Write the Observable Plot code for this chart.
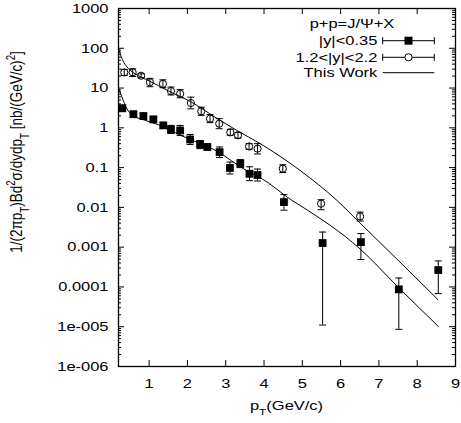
<!DOCTYPE html>
<html><head><meta charset="utf-8">
<script src="https://cdn.jsdelivr.net/npm/d3@7"></script>
<script src="https://cdn.jsdelivr.net/npm/@observablehq/plot@0.6"></script>
<style>body{margin:0;background:#fff} svg{display:block}</style>
</head><body><div id="chart"></div>
<script>
// |y|<0.35 (filled squares)
const midX  = [0.30, 0.59, 0.85, 1.11, 1.37, 1.57, 1.81, 2.07, 2.33, 2.52, 2.84, 3.11, 3.38, 3.62, 3.83, 4.52, 5.53, 6.53, 7.52, 8.55];
const midY  = [3.1, 2.2, 1.97, 1.63, 1.15, 0.91, 0.86, 0.51, 0.38, 0.33, 0.245, 0.098, 0.126, 0.070, 0.065, 0.0136, 0.00127, 0.00134, 8.7e-5, 2.66e-4];
const midLo = [2.6, 1.85, 1.65, 1.37, 0.97, 0.72, 0.64, 0.38, 0.30, 0.28, 0.18, 0.069, 0.10, 0.047, 0.046, 0.0085, 1.1e-5, 4.9e-4, 8.6e-6, 6.8e-5];
const midHi = [3.7, 2.6, 2.35, 1.94, 1.37, 1.15, 1.15, 0.68, 0.48, 0.39, 0.33, 0.138, 0.159, 0.105, 0.092, 0.021, 0.0024, 0.0022, 1.68e-4, 4.5e-4];
// 1.2<|y|<2.2 (open circles)
const fwdX  = [0.35, 0.57, 0.79, 1.02, 1.36, 1.57, 1.81, 2.09, 2.36, 2.59, 2.83, 3.12, 3.32, 3.61, 3.83, 4.49, 5.49, 6.51];
const fwdY  = [24.7, 24.9, 20.4, 14, 12.8, 8.4, 7.2, 4.2, 2.6, 1.7, 1.27, 0.77, 0.65, 0.34, 0.30, 0.094, 0.0124, 0.0059];
const fwdLo = [20.8, 19.5, 18.2, 10.8, 10.2, 6.7, 5.7, 3.0, 2.06, 1.35, 0.95, 0.65, 0.55, 0.29, 0.22, 0.075, 0.00875, 0.00453];
const fwdHi = [29.4, 30.5, 22.8, 17.5, 16.1, 10.6, 9.1, 5.9, 3.3, 2.15, 1.7, 0.92, 0.77, 0.40, 0.40, 0.118, 0.0156, 0.0076];
// "This Work" curves
const upperX = [0.2, 0.3, 0.45, 0.6, 0.8, 1.0, 1.5, 2.11, 2.72, 3.3, 3.9, 4.94, 5.9, 6.5, 7.5, 8.54];
const upperY = [100, 52.5, 31.6, 24, 18.6, 15.1, 8.5, 4.4, 1.86, 0.85, 0.40, 0.085, 0.0151, 0.0041, 4.7e-4, 4.8e-5];
const lowerX = [0.2, 0.3, 0.42, 0.57, 0.8, 1.24, 1.85, 2.72, 3.59, 3.9, 4.73, 4.94, 6.51, 7.52, 8.55];
const lowerY = [10, 5.6, 3.0, 2.04, 1.66, 1.2, 0.63, 0.275, 0.079, 0.056, 0.015, 0.0112, 9e-4, 9.5e-5, 1.02e-5];
// axes
const xTicks = [1, 2, 3, 4, 5, 6, 7, 8, 9];
const yTicks = [1000, 100, 10, 1, 0.1, 0.01, 0.001, 0.0001, 1e-5, 1e-6];
const yTickLabels = ["1000", "100", "10", "1", "0.1", "0.01", "0.001", "0.0001", "1e-005", "1e-006"];
const legendLabels = ["|y|<0.35", "1.2<|y|<2.2", "This Work"];
const legendTitle = "p+p=J/\u03A8+X";

const W = 461, H = 423, mL = 118, mR = 6, mT = 8, mB = 57;
const fw = W - mL - mR, fh = H - mT - mB;
const FONT = "'Liberation Sans', Arial, sans-serif";
const FS = 13.5, SX = 1.22;

const mid = midX.map((x, i) => ({x, y: midY[i], lo: midLo[i], hi: midHi[i]}));
const fwd = fwdX.map((x, i) => ({x, y: fwdY[i], lo: fwdLo[i], hi: fwdHi[i]}));
const upper = upperX.map((x, i) => ({x, y: upperY[i]}));
const lower = lowerX.map((x, i) => ({x, y: lowerY[i]}));
const yMinor = yTicks.slice(1).flatMap(d => [2,3,4,5,6,7,8,9].map(k => d * k));
const capSym = {draw(ctx, size) { const r = Math.sqrt(size / Math.PI); ctx.moveTo(-r, 0); ctx.lineTo(r, 0); }};

const plot = Plot.plot({
  width: W, height: H,
  marginLeft: mL, marginRight: mR, marginTop: mT, marginBottom: mB,
  style: {fontFamily: FONT, fontSize: FS + "px", color: "black", background: "white"},
  x: {type: "linear", domain: [0.2, 9]},
  y: {type: "log", domain: [1e-6, 1000]},
  marks: [
    Plot.axisX({ticks: xTicks, tickFormat: d => String(d), tickSize: 0, tickPadding: 12, label: null, fontSize: FS}),
    Plot.axisY({ticks: yTicks, tickFormat: d => yTickLabels[yTicks.findIndex(v => Math.abs(Math.log10(v) - Math.log10(d)) < 1e-6)], tickSize: 0, tickPadding: 10, label: null, fontSize: FS}),
    // inward ticks
    Plot.tickY(yTicks, {y: d => d, insetRight: fw - 6, stroke: "black"}),
    Plot.tickY(yTicks, {y: d => d, insetLeft: fw - 6, stroke: "black"}),
    Plot.tickY(yMinor, {y: d => d, insetRight: fw - 3, stroke: "black"}),
    Plot.tickY(yMinor, {y: d => d, insetLeft: fw - 3, stroke: "black"}),
    Plot.tickX(xTicks, {x: d => d, insetTop: fh - 6, stroke: "black"}),
    Plot.tickX(xTicks, {x: d => d, insetBottom: fh - 6, stroke: "black"}),
    // curves
    Plot.line(upper, {x: "x", y: "y", curve: "monotone-x", stroke: "black", strokeWidth: 1}),
    Plot.line(lower, {x: "x", y: "y", curve: "monotone-x", stroke: "black", strokeWidth: 1}),
    // error bars
    Plot.ruleX(mid, {x: "x", y1: "lo", y2: "hi", stroke: "black", strokeWidth: 1}),
    Plot.dot(mid, {x: "x", y: "lo", symbol: capSym, r: 3.5, stroke: "black", fill: "none", strokeWidth: 1}),
    Plot.dot(mid, {x: "x", y: "hi", symbol: capSym, r: 3.5, stroke: "black", fill: "none", strokeWidth: 1}),
    Plot.ruleX(fwd, {x: "x", y1: "lo", y2: "hi", stroke: "black", strokeWidth: 1}),
    Plot.dot(fwd, {x: "x", y: "lo", symbol: capSym, r: 3.5, stroke: "black", fill: "none", strokeWidth: 1}),
    Plot.dot(fwd, {x: "x", y: "hi", symbol: capSym, r: 3.5, stroke: "black", fill: "none", strokeWidth: 1}),
    // markers
    Plot.dot(mid, {x: "x", y: "y", symbol: "square", r: 4.4, fill: "black", stroke: "none"}),
    Plot.dot(fwd, {x: "x", y: "y", symbol: "circle", r: 3.6, fill: "none", stroke: "black", strokeWidth: 1}),
    Plot.frame({stroke: "black", strokeWidth: 1.3})
  ]
});

const svg = d3.select(plot);
// horizontally stretched lettering, as in the reference (scale about each label's own anchor)
svg.selectAll("text").each(function() {
  const t = d3.select(this);
  const tr = t.attr("transform");
  if (tr) t.attr("transform", `${tr} scale(${SX},1)`);
});

function addText(g, x, y, anchor, parts, extra = "", fs = FS) {
  const t = g.append("text")
    .attr("transform", `translate(${x},${y}) ${extra}`)
    .attr("text-anchor", anchor)
    .attr("font-family", FONT).attr("font-size", fs).attr("fill", "black");
  parts.forEach(p => {
    if (typeof p === "string") t.append("tspan").text(p);
    else t.append("tspan").attr("baseline-shift", p.s).attr("font-size", "72%").text(p.t);
  });
  return t;
}
const lab = svg.append("g");
// x label
addText(lab, (mL + W - mR) / 2, 410, "middle", ["p", {s: "sub", t: "T"}, "(GeV/c)"], `scale(${SX},1)`);
// y label
addText(lab, 22, 152, "middle",
  ["1/(2\u03C0p", {s: "sub", t: "T"}, ")Bd", {s: "super", t: "2"}, "\u03C3/dydp", {s: "sub", t: "T"}, " [nb/(GeV/c)", {s: "super", t: "2"}, "]"],
  `rotate(-90) scale(1,${SX})`);

// legend
const lg = svg.append("g").attr("stroke", "black").attr("fill", "none");
const tx = 377.3, lx1 = 382.7, lx2 = 434.3, lxm = (lx1 + lx2) / 2;
const rows = [40.7, 57.3, 72.7];
addText(lab, 352, 28.3, "middle", [legendTitle], `scale(${SX},1)`);
legendLabels.forEach((s, i) => addText(lab, tx, rows[i] + 4.6, "end", [s], `scale(${SX},1)`));
rows.forEach((ry, i) => {
  lg.append("line").attr("x1", lx1).attr("x2", lx2).attr("y1", ry).attr("y2", ry);
  if (i < 2) {
    lg.append("line").attr("x1", lx1).attr("x2", lx1).attr("y1", ry - 3.5).attr("y2", ry + 3.5);
    lg.append("line").attr("x1", lx2).attr("x2", lx2).attr("y1", ry - 3.5).attr("y2", ry + 3.5);
  }
});
lg.append("rect").attr("x", lxm - 4).attr("y", rows[0] - 4).attr("width", 8).attr("height", 8).attr("fill", "black").attr("stroke", "none");
lg.append("circle").attr("cx", lxm).attr("cy", rows[1]).attr("r", 3.6).attr("fill", "white");

document.getElementById("chart").appendChild(plot);
</script>
</body></html>
